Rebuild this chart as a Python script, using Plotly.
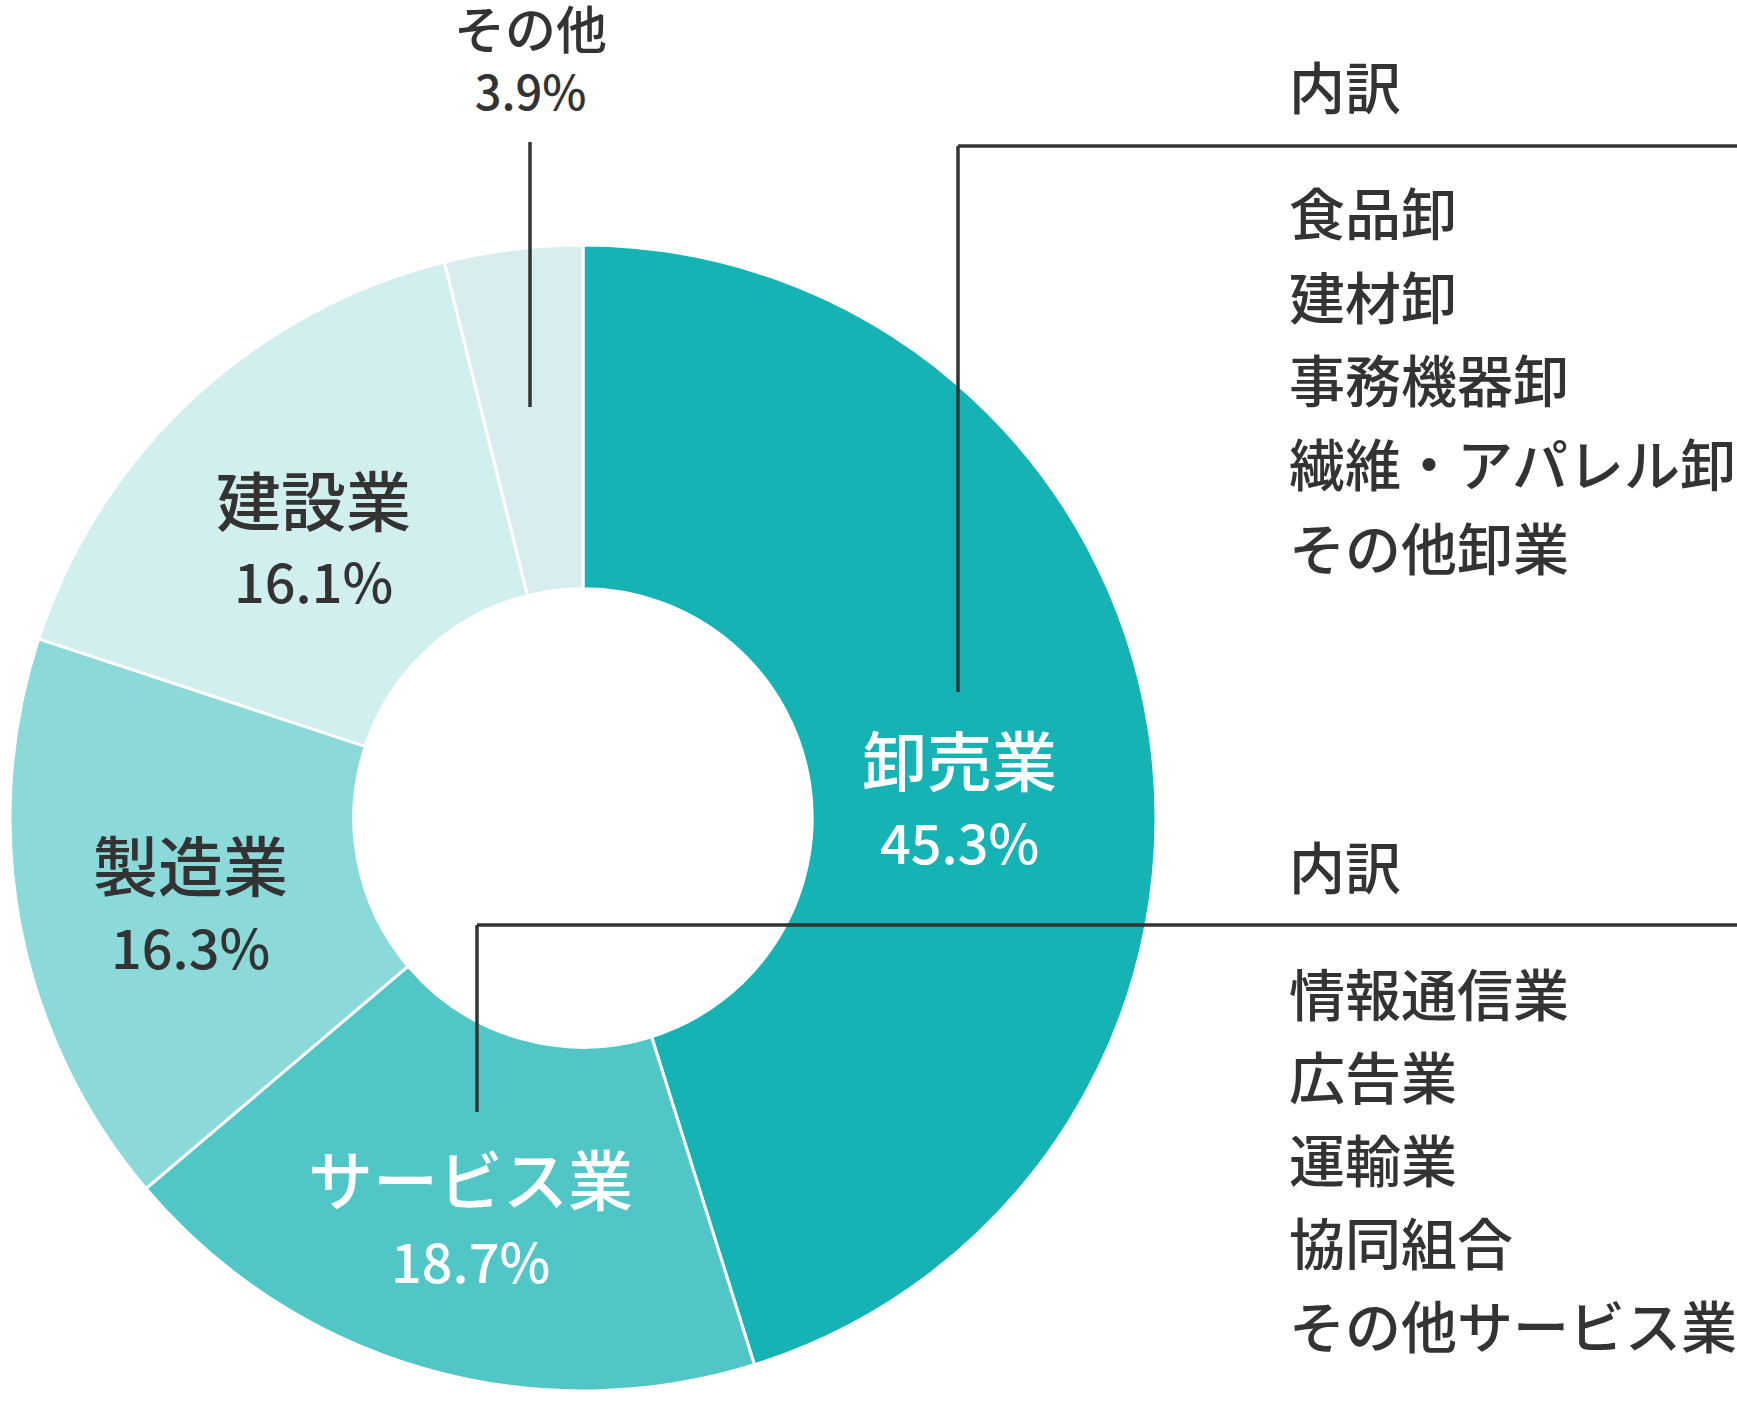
import plotly.graph_objects as go

W, H = 1737, 1404

categories = ["卸売業", "サービス業", "製造業", "建設業", "その他"]
shares = [45.3, 18.7, 16.3, 16.1, 3.9]
colors = ["#15b3b3", "#50c6c6", "#8bd9d9", "#d0efee", "#d8eded"]

wholesale_items = ["食品卸", "建材卸", "事務機器卸", "繊維・アパレル卸", "その他卸業"]
service_items = ["情報通信業", "広告業", "運輸業", "協同組合", "その他サービス業"]
breakdown_title = "内訳"

FONT = "Noto Sans CJK JP"
DARK = "#333333"
WEIGHT = 500

cx, cy, R = 583, 818, 573

def px(x):
    return x / W

def py(y):
    return 1 - y / H

fig = go.Figure(go.Pie(
    labels=categories,
    values=shares,
    marker=dict(colors=colors, line=dict(color="white", width=3)),
    hole=0.4,
    sort=False,
    direction="clockwise",
    rotation=0,
    textinfo="none",
    hoverinfo="label+percent",
    showlegend=False,
    domain=dict(x=[px(cx - R), px(cx + R)], y=[py(cy + R), py(cy - R)]),
))

annotations = []

def add_text(x, y, text, size, color=DARK, xanchor="center", yanchor="middle"):
    annotations.append(dict(
        x=px(x), y=py(y), xref="paper", yref="paper", text=text,
        showarrow=False, xanchor=xanchor, yanchor=yanchor,
        font=dict(family=FONT, size=size, color=color, weight=WEIGHT),
    ))

# in-donut labels: (name x, name y, pct y, color)
label_pos = {
    "卸売業": (959, 758, 840, "white"),
    "サービス業": (470, 1177, 1259, "white"),
    "製造業": (190, 863, 945, DARK),
    "建設業": (313, 498, 580, DARK),
}
for name, val in zip(categories, shares):
    if name in label_pos:
        x, yn, yp, col = label_pos[name]
        add_text(x, yn, name, 65, col)
        add_text(x, yp, f"{val}%", 54, col)
    else:
        add_text(530, -12, f"<span style='font-size:51px'>{name}</span><br>{val}%",
                 47, yanchor="top")

# breakdown lists
list_x = 1287
add_text(list_x, 85, breakdown_title, 56, xanchor="left")
for i, item in enumerate(wholesale_items):
    add_text(list_x, 211 + i * 83.5, item, 56, xanchor="left")
add_text(list_x, 864, breakdown_title, 56, xanchor="left")
for i, item in enumerate(service_items):
    add_text(list_x, 991 + i * 83.2, item, 56, xanchor="left")

line = dict(color=DARK, width=3.5)
shapes = [
    # その他 leader
    dict(type="line", xref="paper", yref="paper", x0=px(530), y0=py(142), x1=px(530), y1=py(407), line=line),
    # wholesale bracket
    dict(type="line", xref="paper", yref="paper", x0=px(958), y0=py(146), x1=px(958), y1=py(692), line=line),
    dict(type="line", xref="paper", yref="paper", x0=px(958), y0=py(146), x1=px(1737), y1=py(146), line=line),
    # service bracket
    dict(type="line", xref="paper", yref="paper", x0=px(477), y0=py(925), x1=px(477), y1=py(1112), line=line),
    dict(type="line", xref="paper", yref="paper", x0=px(477), y0=py(925), x1=px(1737), y1=py(925), line=line),
]

fig.update_layout(
    width=W, height=H,
    margin=dict(l=0, r=0, t=0, b=0),
    paper_bgcolor="white", plot_bgcolor="white",
    annotations=annotations,
    shapes=shapes,
    font=dict(family=FONT, color=DARK),
)

fig.write_html("out.html")
